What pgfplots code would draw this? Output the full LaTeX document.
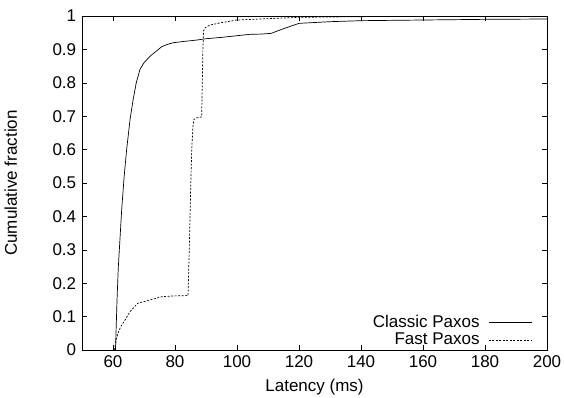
\documentclass[border=0pt]{standalone}
\usepackage{pgfplots}
\pgfplotsset{compat=1.18}
\usepackage{fontspec}
\setmainfont{Liberation Sans}
\usetikzlibrary{calc}
\begin{document}
\fontsize{17}{19}\selectfont
\begin{tikzpicture}
\begin{axis}[name=ax,
  scale only axis, width=465pt, height=334pt,
  xmin=50, xmax=200, ymin=0, ymax=1,
  xtick={60,80,...,200}, ytick={0,0.1,...,1.0},
  yticklabel style={/pgf/number format/fixed,/pgf/number format/precision=1},
  /pgf/number format/assume math mode=true,
  tick label style={font=\fontsize{17}{19}\selectfont},
  label style={font=\fontsize{17}{19}\selectfont},
  tick align=inside, major tick length=5pt,
  tick style={black, line width=0.6pt},
  axis line style={line width=0.8pt},
  xlabel={Latency (ms)}, ylabel={Cumulative fraction},
  xlabel style={yshift=0pt}, ylabel style={yshift=24pt},
  legend plot pos=right,
  legend cell align=right,
  legend image code/.code={\draw[#1] (0pt,0pt) -- (43pt,0pt);},
  legend style={draw=none, fill=none, at={(rel axis cs:0.973,-0.005)}, anchor=south east,
    row sep=-1pt, column sep=7pt, inner sep=2pt, font=\fontsize{17}{19}\selectfont},
]
\addplot[black, line width=0.7pt] coordinates {
(60.8,0) (61.3,0.15) (61.7,0.245) (62.8,0.42) (63.6,0.52) (64.4,0.6) (65.5,0.69) (66.5,0.75) (67.5,0.8) (68.7,0.84) (70,0.86) (72,0.88) (74,0.895) (75.7,0.908) (77.5,0.915) (79.4,0.92) (83,0.924) (87,0.928) (90,0.932) (95,0.936) (100,0.941) (104,0.945) (108,0.946) (111,0.948) (115,0.962) (120,0.978) (130,0.983) (140,0.986) (160,0.988) (180,0.99) (200,0.991)
};
\addlegendentry{Classic Paxos}
\addplot[black, line width=0.7pt, dash pattern=on 2pt off 1.5pt] coordinates {
(60.5,0) (61,0.03) (61.6,0.05) (62.5,0.07) (63.9,0.09) (65.5,0.115) (67,0.13) (68,0.14) (70,0.145) (72,0.15) (74,0.155) (76,0.16) (80,0.162) (84.2,0.163) (84.6,0.3) (85.1,0.5) (85.4,0.6) (85.8,0.67) (86.1,0.69) (87,0.695) (88.6,0.698) (88.8,0.8) (89,0.9) (89.2,0.955) (89.7,0.965) (91.3,0.973) (95,0.98) (100,0.988) (110,0.992) (120,0.996) (140,0.998) (160,0.999) (200,1)
};
\addlegendentry{Fast Paxos}
\end{axis}
\pgfresetboundingbox
\path[use as bounding box] ($(ax.south west)+(-82pt,-47pt)$) rectangle ($(ax.north east)+(17pt,16pt)$);
\end{tikzpicture}
\end{document}
